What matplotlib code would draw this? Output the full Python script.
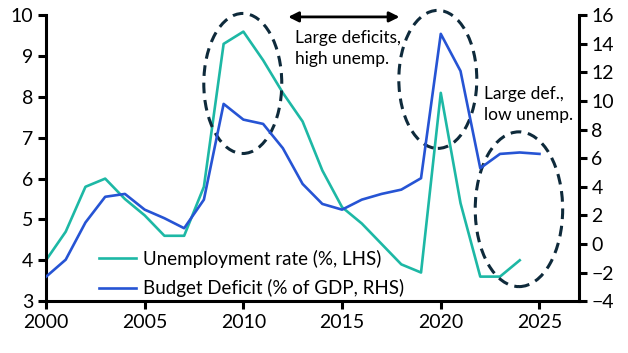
import numpy as np
import matplotlib.pyplot as plt
from matplotlib.patches import Ellipse

plt.rcParams['font.family'] = ['Lato', 'DejaVu Sans']

years_u = list(range(2000, 2025))
unemployment = [4.0, 4.7, 5.8, 6.0, 5.5, 5.1, 4.6, 4.6, 5.8, 9.3, 9.6, 8.9, 8.1,
                7.4, 6.2, 5.3, 4.9, 4.4, 3.9, 3.7, 8.1, 5.4, 3.6, 3.6, 4.0]

years_d = list(range(2000, 2026))
deficit = [-2.3, -1.1, 1.5, 3.3, 3.5, 2.4, 1.8, 1.1, 3.1, 9.8, 8.7, 8.4, 6.7,
           4.2, 2.8, 2.4, 3.1, 3.5, 3.8, 4.6, 14.7, 12.1, 5.3, 6.3, 6.4, 6.3]

labels = ['Unemployment rate (%, LHS)', 'Budget Deficit (% of GDP, RHS)']
teal = '#1db8a5'
blue = '#2654d4'
navy = '#0e2a3b'

fig = plt.figure(figsize=(6.28, 3.53), dpi=100)
ax = fig.add_axes([0.0732, 0.147, 0.8487, 0.8097])
ax2 = ax.twinx()

l1, = ax.plot(years_u, unemployment, color=teal, lw=1.9)
l2, = ax2.plot(years_d, deficit, color=blue, lw=1.9)

ax.set_xlim(2000, 2027)
ax.set_ylim(3, 10)
ax2.set_ylim(-4, 16)
ax.set_xticks(range(2000, 2030, 5))
ax.set_yticks(range(3, 11))
ax2.set_yticks(range(-4, 17, 2))

for a in (ax, ax2):
    for s in a.spines.values():
        s.set_linewidth(2.2)
    a.spines['top'].set_visible(False)
    a.tick_params(width=2.2, length=6, labelsize=14, pad=3)
ax.spines['right'].set_visible(False)
ax2.spines['left'].set_visible(False)
ax2.spines['bottom'].set_visible(False)

# dashed ellipses (in LHS data coords)
for (cx, cy, w, h) in [(2009.97, 8.33, 3.95, 3.43),
                       (2019.85, 8.43, 3.95, 3.38),
                       (2023.96, 5.25, 4.43, 3.79)]:
    ax.add_patch(Ellipse((cx, cy), w, h, fill=False, ec=navy, lw=2.2,
                         ls=(0, (3.5, 2.2)), zorder=5, clip_on=False))

ax.annotate('', xy=(2012.27, 9.96), xytext=(2017.91, 9.96),
            arrowprops=dict(arrowstyle='<|-|>', color='black', lw=2,
                            mutation_scale=15, shrinkA=0, shrinkB=0),
            annotation_clip=False)
ax.text(2012.6, 9.18, 'Large deficits,\nhigh unemp.', fontsize=12.5,
        va='center', ha='left', linespacing=1.4)
ax.text(2022.2, 7.82, 'Large def.,\nlow unemp.', fontsize=12.5,
        va='center', ha='left', linespacing=1.4)

leg = ax2.legend([l1, l2], labels, loc='lower left', frameon=False,
                 bbox_to_anchor=(0.085, -0.013), fontsize=13.5,
                 handlelength=2.0, handletextpad=0.35, labelspacing=0.62,
                 borderaxespad=0)

fig.savefig('out.png', dpi=100)
